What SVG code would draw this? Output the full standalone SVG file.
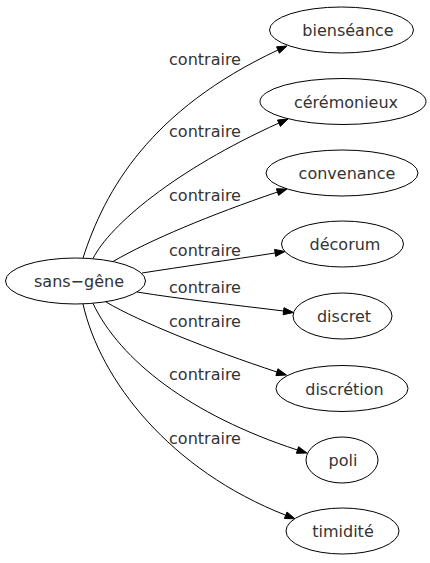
<svg xmlns="http://www.w3.org/2000/svg" width="430" height="563" viewBox="0 0 430 563">
<style>
  .node ellipse { fill: #ffffff; stroke: #000000; stroke-width: 1; }
  text { font-family: "DejaVu Sans", "Liberation Sans", sans-serif; font-size: 16px; fill: #333333; }
  .node text { text-anchor: middle; }
  .edge path { fill: none; stroke: #000000; stroke-width: 1; }
  .edge polygon { fill: #000000; stroke: #000000; stroke-width: 1; }
  .lbl { text-anchor: middle; }
</style>
<rect x="0" y="0" width="430" height="563" fill="#ffffff"/>
<g id="edges">
  <g class="edge" id="e1">
    <path d="M83,258 C105,190 150,110 278,50"/>
    <polygon points="287,46 279.4,53.2 276.6,46.8"/>
    <text class="lbl" x="205" y="65">contraire</text>
  </g>
  <g class="edge" id="e2">
    <path d="M93,258.5 C110,225 175,170 279,123"/>
    <polygon points="288,119 280.4,126.4 277.5,120"/>
    <text class="lbl" x="205" y="137">contraire</text>
  </g>
  <g class="edge" id="e3">
    <path d="M113,261.5 C150,240 210,215 277.5,192"/>
    <polygon points="287,189 278.6,195.4 276.4,188.8"/>
    <text class="lbl" x="205" y="201">contraire</text>
  </g>
  <g class="edge" id="e4">
    <path d="M142,273 C180,267 230,260 275,253"/>
    <polygon points="285,251.5 275.6,256.4 274.6,249.4"/>
    <text class="lbl" x="205" y="255.5">contraire</text>
  </g>
  <g class="edge" id="e5">
    <path d="M137,292 C180,299 235,305 283.5,311"/>
    <polygon points="293.5,312.5 283.1,314.7 284,307.7"/>
    <text class="lbl" x="205" y="292.5">contraire</text>
  </g>
  <g class="edge" id="e6">
    <path d="M106,302 C140,322 210,350 277,372"/>
    <polygon points="286.5,375 275.9,375.6 277.9,368.8"/>
    <text class="lbl" x="205" y="326.5">contraire</text>
  </g>
  <g class="edge" id="e7">
    <path d="M93,303.5 C120,360 190,415 297.5,450"/>
    <polygon points="307,453 296.4,453.3 298.6,446.7"/>
    <text class="lbl" x="205" y="380">contraire</text>
  </g>
  <g class="edge" id="e8">
    <path d="M83,304 C100,380 170,470 285.7,515.2"/>
    <polygon points="295,518.8 284.4,518.5 287,512"/>
    <text class="lbl" x="205" y="444">contraire</text>
  </g>
</g>
<g class="node" id="sans-gene">
  <ellipse cx="75.5" cy="281" rx="70" ry="23"/>
  <text x="79" y="286.5">sans−gêne</text>
</g>
<g class="node" id="bienseance">
  <ellipse cx="341.5" cy="30" rx="72" ry="23"/>
  <text x="348" y="36">bienséance</text>
</g>
<g class="node" id="ceremonieux">
  <ellipse cx="343" cy="101.5" rx="83" ry="23"/>
  <text x="346" y="107.5">cérémonieux</text>
</g>
<g class="node" id="convenance">
  <ellipse cx="342" cy="173" rx="76" ry="23"/>
  <text x="347" y="179">convenance</text>
</g>
<g class="node" id="decorum">
  <ellipse cx="342.5" cy="244" rx="61" ry="23"/>
  <text x="345" y="250">décorum</text>
</g>
<g class="node" id="discret">
  <ellipse cx="342.5" cy="316" rx="49.5" ry="23"/>
  <text x="344" y="322">discret</text>
</g>
<g class="node" id="discretion">
  <ellipse cx="342" cy="388.5" rx="66" ry="23"/>
  <text x="344.5" y="394.5">discrétion</text>
</g>
<g class="node" id="poli">
  <ellipse cx="342" cy="460" rx="36" ry="23"/>
  <text x="343" y="466">poli</text>
</g>
<g class="node" id="timidite">
  <ellipse cx="342.5" cy="531" rx="56.5" ry="23"/>
  <text x="343" y="537">timidité</text>
</g>
</svg>
